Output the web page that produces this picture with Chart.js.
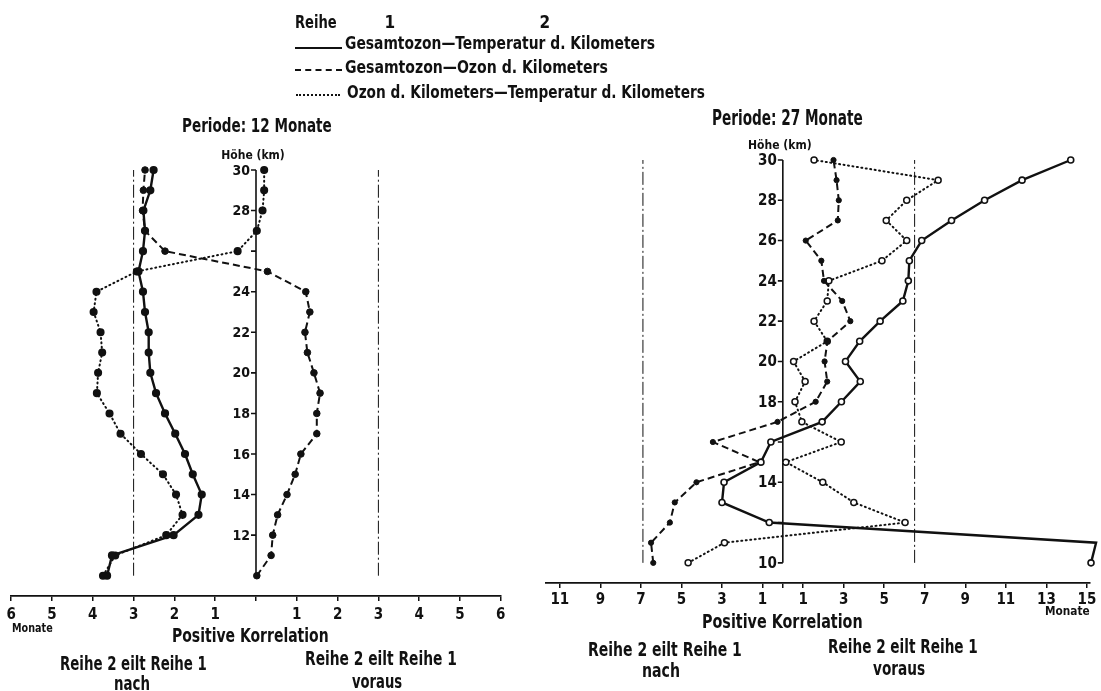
<!DOCTYPE html>
<html>
<head>
<meta charset="utf-8">
<script src="https://cdn.jsdelivr.net/npm/chart.js@4/dist/chart.umd.min.js"></script>
<style>
  html, body { margin: 0; padding: 0; background: #fff; }
  #page { position: relative; width: 1101px; height: 691px; overflow: hidden; background: #fff; }
  #page canvas { position: absolute; top: 0; }
  .t { position: absolute; white-space: nowrap; font-family: 'Liberation Sans Narrow', 'DejaVu Sans Condensed', sans-serif;
       font-weight: bold; color: #111; line-height: 1; transform-origin: 0 0; }
  .key { position: absolute; height: 0; border-top: 2px solid #111; }
</style>
</head>
<body>
<div id="page">
  <canvas id="c12" width="540" height="691" style="left:0"></canvas>
  <canvas id="c27" width="561" height="691" style="left:540px"></canvas>
</div>
<script>
// Heights (km) of the cross-correlation levels
const kmLevels = [10, 11, 12, 13, 14, 15, 16, 17, 18, 19, 20, 21, 22, 23, 24, 25, 26, 27, 28, 29, 30];

// Period 12 months: phase lag (months) of the correlation maximum per level
const tempLag12  = [-3.65, -3.53, -2.02, -1.41, -1.33, -1.55, -1.74, -1.98, -2.23, -2.45, -2.59, -2.63, -2.63, -2.72, -2.77, -2.88, -2.77, -2.72, -2.76, -2.59, -2.51];
const ozoneLag12 = [0.02, 0.37, 0.41, 0.53, 0.76, 0.96, 1.10, 1.49, 1.49, 1.57, 1.42, 1.26, 1.20, 1.32, 1.22, 0.28, -2.23, -2.72, -2.78, -2.76, -2.72];
const layerLag12 = [-3.75, -3.45, -2.20, -1.80, -1.96, -2.28, -2.82, -3.32, -3.59, -3.90, -3.87, -3.77, -3.81, -3.98, -3.91, -2.92, -0.45, 0.02, 0.16, 0.20, 0.20];

// Period 27 months
const tempLag27  = [15.2, 15.45, -0.67, -3.0, -2.9, -1.08, -0.59, 1.94, 2.89, 3.82, 3.09, 3.79, 4.8, 5.92, 6.19, 6.24, 6.85, 8.32, 9.95, 11.8, 14.2];
const ozoneLag27 = [-6.39, -6.5, -5.57, -5.33, -4.26, -1.16, -3.45, -0.26, 1.62, 2.19, 2.06, 2.2, 3.33, 2.93, 2.03, 1.9, 1.13, 2.71, 2.76, 2.65, 2.5];
const layerLag27 = [-4.67, -2.88, 6.03, 3.5, 1.97, 0.15, 2.88, 0.94, 0.6, 1.1, 0.53, 2.19, 1.54, 2.19, 2.27, 4.89, 6.11, 5.1, 6.11, 7.66, 1.54];

// Quarter-period limits (dash-dot guide lines)
const lagLimits12 = [-3, 3];
const lagLimits27 = [-6.9, 6.5];

// Axis ticks and labels
const monthTicks12 = [-6, -5, -4, -3, -2, -1, 0, 1, 2, 3, 4, 5, 6];
const monthTicks27 = [-11, -9, -7, -5, -3, -1, 0, 1, 3, 5, 7, 9, 11, 13, 15];
const heightTicks12 = [12, 14, 16, 18, 20, 22, 24, 26, 28, 30];
const heightLabels12 = [12, 14, 16, 18, 20, 22, 24, 28, 30];
const heightTicks27 = [10, 12, 14, 16, 18, 20, 22, 24, 26, 28, 30];
const heightLabels27 = [10, 14, 18, 20, 22, 24, 26, 28, 30];

const FONT = "'Liberation Sans Narrow', 'DejaVu Sans Condensed', sans-serif";
const INK = '#111';

const toPoints = vals => vals.map((v, i) => ({ x: v, y: kmLevels[i] }));
const guide = v => ({
  data: [{ x: v, y: kmLevels[0] }, { x: v, y: kmLevels[kmLevels.length - 1] }],
  showLine: true, borderColor: INK, borderWidth: 1, borderDash: [13, 3, 2, 3],
  pointRadius: 0, clip: false
});

// Vertical height axis drawn through x = 0
const heightAxis = {
  id: 'heightAxis',
  beforeDatasetsDraw(chart, args, opts) {
    const { ctx, scales: { x, y } } = chart;
    const x0 = x.getPixelForValue(0);
    ctx.save();
    ctx.strokeStyle = INK;
    ctx.lineWidth = 1.6;
    ctx.beginPath();
    ctx.moveTo(x0, y.getPixelForValue(kmLevels[0]));
    ctx.lineTo(x0, y.getPixelForValue(kmLevels[kmLevels.length - 1]));
    opts.ticks.forEach(v => {
      const py = y.getPixelForValue(v);
      ctx.moveTo(x0 - 5, py);
      ctx.lineTo(x0, py);
    });
    ctx.stroke();
    ctx.fillStyle = INK;
    ctx.font = 'bold ' + opts.size + 'px ' + FONT;
    ctx.textAlign = 'right';
    ctx.textBaseline = 'middle';
    opts.labels.forEach(v => ctx.fillText(String(v), x0 - 6, y.getPixelForValue(v) + 1));
    ctx.textAlign = 'center';
    ctx.font = 'bold ' + opts.titleSize + 'px ' + FONT;
    ctx.fillText('Höhe (km)', x0 - 3, y.getPixelForValue(kmLevels[kmLevels.length - 1]) - opts.titleGap);
    ctx.restore();
  }
};

function makeChart(id, cfg) {
  return new Chart(document.getElementById(id), {
    type: 'scatter',
    data: {
      datasets: [
        guide(cfg.limits[0]),
        guide(cfg.limits[1]),
        {
          data: toPoints(cfg.temp), showLine: true, borderColor: INK, borderWidth: 2.4,
          pointBackgroundColor: cfg.openMarks ? '#fff' : INK, pointBorderColor: INK,
          pointBorderWidth: 1.6, pointRadius: cfg.openMarks ? 3 : 3.3, clip: false
        },
        {
          data: toPoints(cfg.ozone), showLine: true, borderColor: INK, borderWidth: 2,
          borderDash: [7, 4], pointBackgroundColor: INK, pointBorderColor: INK,
          pointBorderWidth: 1, pointRadius: cfg.openMarks ? 2.6 : 3.3, clip: false
        },
        {
          data: toPoints(cfg.layer), showLine: true, borderColor: INK, borderWidth: 2,
          borderDash: [1, 3.5], borderCapStyle: 'round',
          pointBackgroundColor: cfg.openMarks ? '#fff' : INK, pointBorderColor: INK,
          pointBorderWidth: 1.5, pointRadius: cfg.openMarks ? 3 : 3.3, clip: false
        }
      ]
    },
    options: {
      responsive: false, animation: false, devicePixelRatio: 1, events: [],
      layout: { padding: cfg.padding },
      plugins: { legend: { display: false }, tooltip: { enabled: false }, heightAxis: cfg.axis },
      scales: {
        x: {
          type: 'linear', position: 'bottom', min: cfg.xMin, max: cfg.xMax,
          afterBuildTicks: s => { s.ticks = cfg.monthTicks.map(v => ({ value: v })); },
          afterFit: s => { s.height = cfg.axisHeight; },
          border: { display: true, color: INK, width: 1.8 },
          grid: { drawOnChartArea: false, drawTicks: true, tickLength: 5, color: INK, lineWidth: 1.5 },
          ticks: {
            autoSkip: false, maxRotation: 0, color: INK, padding: cfg.tickPad,
            font: { family: FONT, weight: 'bold', size: 15 },
            callback: v => (v === 0 ? '' : String(Math.abs(v)))
          }
        },
        y: { type: 'linear', display: false, min: 9, max: 30 }
      }
    },
    plugins: [heightAxis]
  });
}

makeChart('c12', {
  temp: tempLag12, ozone: ozoneLag12, layer: layerLag12, limits: lagLimits12,
  monthTicks: monthTicks12, xMin: -6, xMax: 6, openMarks: false,
  padding: { left: 11.2, right: 39.2, top: 170, bottom: 0 }, axisHeight: 95, tickPad: 5,
  axis: { ticks: heightTicks12, labels: heightLabels12, size: 14, titleSize: 12, titleGap: 14 }
});

makeChart('c27', {
  temp: tempLag27, ozone: ozoneLag27, layer: layerLag27, limits: lagLimits27,
  monthTicks: monthTicks27, xMin: -11.7, xMax: 15.15, openMarks: true,
  padding: { left: 2.3, right: 11, top: 160, bottom: 0 }, axisHeight: 108, tickPad: 3,
  axis: { ticks: heightTicks27, labels: heightLabels27, size: 15, titleSize: 12, titleGap: 14 }
});

// Captions, legend and panel titles
const page = document.getElementById('page');
function label(text, left, right, midY, size) {
  const el = document.createElement('div');
  el.className = 't';
  el.textContent = text;
  el.style.fontSize = size + 'px';
  page.appendChild(el);
  const w = el.offsetWidth;
  const target = right == null ? w : right - left;
  const sx = target / w;
  const x = right == null ? left - w / 2 : left;
  el.style.left = x + 'px';
  el.style.top = (midY - size * 0.58) + 'px';
  el.style.transform = 'scaleX(' + sx + ')';
}
function key(left, right, y, style) {
  const el = document.createElement('div');
  el.className = 'key';
  el.style.left = left + 'px';
  el.style.width = (right - left) + 'px';
  el.style.top = y + 'px';
  el.style.borderTopStyle = style;
  page.appendChild(el);
}

label('Reihe', 295, 337, 24, 17);
label('1', 390, null, 24, 17);
label('2', 545, null, 24, 17);
key(295, 342, 47, 'solid');
key(295, 342, 69, 'dashed');
key(296, 340, 94, 'dotted');
label('Gesamtozon\u2014Temperatur d. Kilometers', 345, 655, 45, 17);
label('Gesamtozon\u2014Ozon d. Kilometers', 345, 608, 69, 17);
label('Ozon d. Kilometers\u2014Temperatur d. Kilometers', 347, 705, 94, 17);

label('Periode: 12 Monate', 182, 332, 127, 20);
label('Periode: 27 Monate', 712, 863, 120, 21);

label('Monate', 12, 53, 629, 12);
label('Monate', 1045, 1090, 612, 12);

label('Positive Korrelation', 172, 329, 637, 20);
label('Reihe 2 eilt Reihe 1', 60, 207, 665, 19);
label('nach', 114, 150, 685, 19);
label('Reihe 2 eilt Reihe 1', 305, 457, 660, 19);
label('voraus', 352, 402, 683, 19);

label('Positive Korrelation', 702, 863, 623, 20);
label('Reihe 2 eilt Reihe 1', 588, 742, 651, 19);
label('nach', 642, 680, 672, 19);
label('Reihe 2 eilt Reihe 1', 828, 978, 648, 19);
label('voraus', 873, 925, 670, 19);
</script>
</body>
</html>
